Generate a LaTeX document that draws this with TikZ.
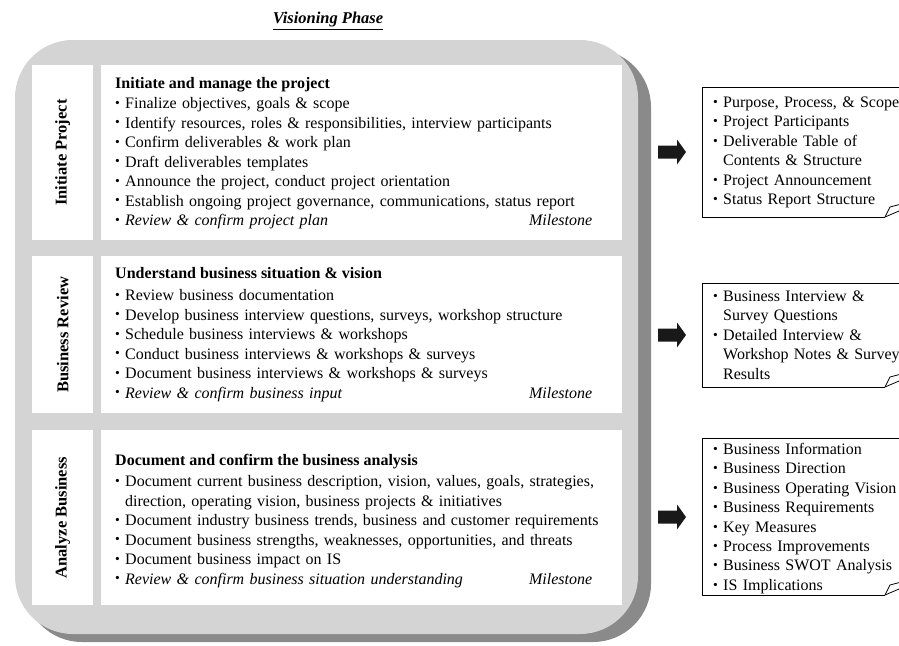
\documentclass[tikz,border=0pt]{standalone}
\usepackage{fontspec}
\setmainfont{Liberation Serif}
\definecolor{panelgray}{RGB}{212,212,212}
\definecolor{shadowgray}{RGB}{138,138,138}
\newcommand{\sbul}{\raisebox{0.15ex}{\scalebox{0.85}{\textbullet}}}
\newcommand{\bitem}[1]{\noindent\hangindent=10pt\hangafter=1\makebox[10pt][l]{\sbul}#1\par}
\newcommand{\mstone}[1]{\bitem{\makebox[467pt][l]{\textit{#1}\hfill\textit{Milestone}}}}
\begin{document}
\begin{tikzpicture}[x=1pt,y=-1pt,
  cellbox/.style={fill=white, draw=none, anchor=north west, inner sep=0pt},
  vlabel/.style={rotate=90, font=\fontsize{16.5}{18}\selectfont\bfseries, inner sep=0pt},
  hd/.style={anchor=base west, inner sep=0pt, font=\fontsize{16}{19.5}\selectfont\bfseries},
  items/.style={anchor=base west, inner sep=0pt, text width=505pt, align=left, font=\fontsize{16}{19.5}\selectfont},
  dlist/.style={anchor=base west, inner sep=0pt, text width=200pt, align=left, font=\fontsize{16}{19.4}\selectfont},
  dbox/.style={draw=black, line width=0.8pt},
  blockarrow/.style={fill=black!90}]
\useasboundingbox (0,0) rectangle (899,645);
\clip (0,0) rectangle (899,645);

% title
\node[inner sep=0pt, font=\fontsize{16.5}{18}\selectfont\bfseries\itshape] (title) at (328,21) {\underline{Visioning Phase}};

% panel with shadow
\fill[shadowgray, rounded corners=58pt] (24,49) rectangle (651,642);
\fill[panelgray, rounded corners=58pt] (15,40) rectangle (638,634);

% row cells
\node[cellbox, minimum width=61pt, minimum height=175pt] (l1) at (32,65) {};
\node[cellbox, minimum width=521pt, minimum height=175pt] (c1) at (101,65) {};
\node[cellbox, minimum width=61pt, minimum height=157pt] (l2) at (32,256) {};
\node[cellbox, minimum width=521pt, minimum height=157pt] (c2) at (101,256) {};
\node[cellbox, minimum width=61pt, minimum height=175pt] (l3) at (32,430) {};
\node[cellbox, minimum width=521pt, minimum height=175pt] (c3) at (101,430) {};

\node[vlabel] (v1) at (l1.center) {Initiate Project};
\node[vlabel] (v2) at (l2.center) {Business Review};
\node[vlabel] (v3) at (l3.center) {Analyze Business};

% row 1
\node[hd] (h1) at (115,88) {Initiate and manage the project};
\node[items] (i1) at (115,108.5) {%
\bitem{Finalize objectives, goals \& scope}%
\bitem{Identify resources, roles \& responsibilities, interview participants}%
\bitem{Confirm deliverables \& work plan}%
\bitem{Draft deliverables templates}%
\bitem{Announce the project, conduct project orientation}%
\bitem{Establish ongoing project governance, communications, status report}%
\mstone{Review \& confirm project plan}};

% row 2
\node[hd] (h2) at (115,278) {Understand business situation \& vision};
\node[items] (i2) at (115,300.5) {%
\bitem{Review business documentation}%
\bitem{Develop business interview questions, surveys, workshop structure}%
\bitem{Schedule business interviews \& workshops}%
\bitem{Conduct business interviews \& workshops \& surveys}%
\bitem{Document business interviews \& workshops \& surveys}%
\mstone{Review \& confirm business input}};

% row 3
\node[hd] (h3) at (115,465) {Document and confirm the business analysis};
\node[items] (i3) at (115,486.5) {%
\bitem{Document current business description, vision, values, goals, strategies,\newline direction, operating vision, business projects \& initiatives}%
\bitem{Document industry business trends, business and customer requirements}%
\bitem{Document business strengths, weaknesses, opportunities, and threats}%
\bitem{Document business impact on IS}%
\mstone{Review \& confirm business situation understanding}};

% block arrows
\foreach \yy/\nm in {152/a1,335/a2,517/a3}{
  \fill[blockarrow] (658,\yy-6.5) -- (677,\yy-6.5) -- (677,\yy-12.5) -- (686,\yy) -- (677,\yy+12.5) -- (677,\yy+6.5) -- (658,\yy+6.5) -- cycle;
}

% deliverable boxes
\draw[dbox] (915,87) -- (702,87) -- (702,217) -- (885,217);
\draw[dbox] (885,217) -- (890,207) -- (905,203);
\draw[dbox] (885,217) .. controls (892,214) .. (899,211);
\node[dlist] (d1) at (713,107.5) {%
\bitem{Purpose, Process, \& Scope}%
\bitem{Project Participants}%
\bitem{Deliverable Table of\newline Contents \& Structure}%
\bitem{Project Announcement}%
\bitem{Status Report Structure}};

\draw[dbox] (915,283) -- (702,283) -- (702,387) -- (885,387);
\draw[dbox] (885,387) -- (890,377) -- (905,373);
\draw[dbox] (885,387) .. controls (892,384) .. (899,381);
\node[dlist] (d2) at (713,301.5) {%
\bitem{Business Interview \&\newline Survey Questions}%
\bitem{Detailed Interview \&\newline Workshop Notes \& Surveys\newline Results}};

\draw[dbox] (915,438) -- (702,438) -- (702,595) -- (885,595);
\draw[dbox] (885,595) -- (890,585) -- (905,581);
\draw[dbox] (885,595) .. controls (892,592) .. (899,589);
\node[dlist] (d3) at (713,454.5) {%
\bitem{Business Information}%
\bitem{Business Direction}%
\bitem{Business Operating Vision}%
\bitem{Business Requirements}%
\bitem{Key Measures}%
\bitem{Process Improvements}%
\bitem{Business SWOT Analysis}%
\bitem{IS Implications}};
\end{tikzpicture}
\end{document}
